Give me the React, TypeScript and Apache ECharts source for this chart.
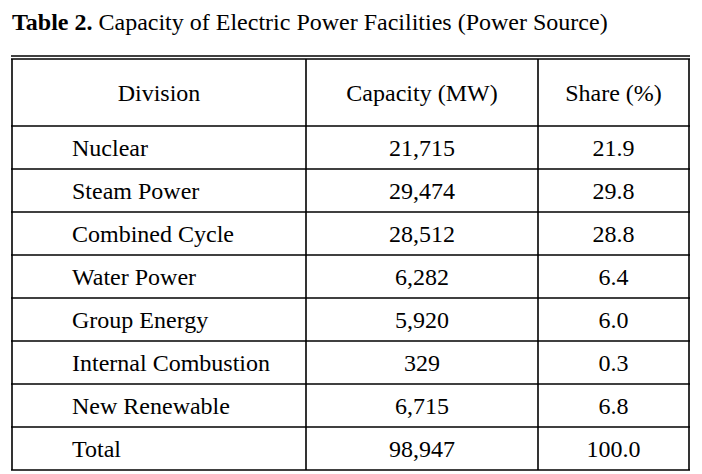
import React, { useEffect, useRef } from "react";
import * as echarts from "echarts";

const titleBold = "Table 2.";
const titleRest = "Capacity of Electric Power Facilities (Power Source)";
const headers = ["Division", "Capacity (MW)", "Share (%)"];
const divisions = [
  "Nuclear",
  "Steam Power",
  "Combined Cycle",
  "Water Power",
  "Group Energy",
  "Internal Combustion",
  "New Renewable",
  "Total",
];
const capacityMW = [21715, 29474, 28512, 6282, 5920, 329, 6715, 98947];
const sharePct = [21.9, 29.8, 28.8, 6.4, 6.0, 0.3, 6.8, 100.0];

const FONT = '24px "Liberation Serif", "Times New Roman", serif';
const COL_EDGES = [0, 294 / 677, 526 / 677, 1];
const LW = 1.6;

function txt(text: string, x: number, y: number, align: string) {
  return {
    type: "text",
    style: {
      text,
      x,
      y,
      font: FONT,
      fill: "#000",
      textAlign: align,
      align,
      textVerticalAlign: "middle",
      verticalAlign: "middle",
    },
  };
}
function ln(x1: number, y1: number, x2: number, y2: number) {
  return {
    type: "line",
    shape: { x1, y1, x2, y2 },
    style: { stroke: "#000", lineWidth: LW },
  };
}

export default function App() {
  const ref = useRef<HTMLDivElement>(null);
  useEffect(() => {
    if (!ref.current) return;
    const chart = echarts.init(ref.current, undefined, { renderer: "svg" });
    const bodyData = divisions.map((d, i) => [i, capacityMW[i], sharePct[i]]);

    const option: any = {
      animation: false,
      backgroundColor: "#fff",
      title: {
        text: "{b|" + titleBold + "} " + titleRest,
        left: 12,
        top: 10,
        padding: 0,
        textStyle: {
          fontFamily: '"Liberation Serif", "Times New Roman", serif',
          fontSize: 24,
          fontWeight: "normal",
          color: "#000",
          lineHeight: 24,
          rich: {
            b: {
              fontFamily: '"Liberation Serif", "Times New Roman", serif',
              fontSize: 24,
              fontWeight: "bold",
              color: "#000",
              lineHeight: 24,
            },
          },
        },
      },
      grid: [
        { left: 12, width: 677, top: 59, height: 67 },
        { left: 12, width: 677, top: 126, height: 344 },
      ],
      xAxis: [
        { type: "value", gridIndex: 0, min: 0, max: 1, show: false },
        { type: "value", gridIndex: 1, min: 0, max: 1, show: false },
      ],
      yAxis: [
        { type: "category", gridIndex: 0, data: ["header"], show: false },
        { type: "category", gridIndex: 1, data: divisions, inverse: true, show: false },
      ],
      series: [
        {
          type: "custom",
          xAxisIndex: 0,
          yAxisIndex: 0,
          data: [[0]],
          renderItem: (params: any, api: any) => {
            const c = api.coord([0, 0]);
            const h = api.size([0, 1])[1];
            const xs = COL_EDGES.map((e) => api.coord([e, 0])[0]);
            const top = c[1] - h / 2;
            const bot = c[1] + h / 2;
            const children: any[] = [
              ln(xs[0] - 1, top - 3, xs[3] + 1, top - 3),
              ln(xs[0] - 1, top, xs[3] + 1, top),
              ln(xs[0] - 1, bot, xs[3] + 1, bot),
            ];
            xs.forEach((x) => children.push(ln(x, top, x, bot)));
            headers.forEach((hd, k) => {
              children.push(txt(hd, (xs[k] + xs[k + 1]) / 2, c[1], "center"));
            });
            return { type: "group", children };
          },
        },
        {
          type: "custom",
          xAxisIndex: 1,
          yAxisIndex: 1,
          data: bodyData,
          renderItem: (params: any, api: any) => {
            const row = api.value(0);
            const cap = api.value(1);
            const share = api.value(2);
            const c = api.coord([0, row]);
            const h = api.size([0, 1])[1];
            const xs = COL_EDGES.map((e) => api.coord([e, row])[0]);
            const top = c[1] - h / 2;
            const bot = c[1] + h / 2;
            const children: any[] = [ln(xs[0] - 1, bot, xs[3] + 1, bot)];
            xs.forEach((x) => children.push(ln(x, top, x, bot)));
            children.push(txt(divisions[row], xs[0] + 60, c[1], "left"));
            children.push(
              txt(Number(cap).toLocaleString("en-US"), (xs[1] + xs[2]) / 2, c[1], "center")
            );
            children.push(txt(Number(share).toFixed(1), (xs[2] + xs[3]) / 2, c[1], "center"));
            return { type: "group", children };
          },
        },
      ],
    };
    chart.setOption(option);
    return () => chart.dispose();
  }, []);
  return (
    <div
      ref={ref}
      style={{ position: "fixed", left: 0, top: 0, width: 702, height: 474, background: "#fff" }}
    />
  );
}
